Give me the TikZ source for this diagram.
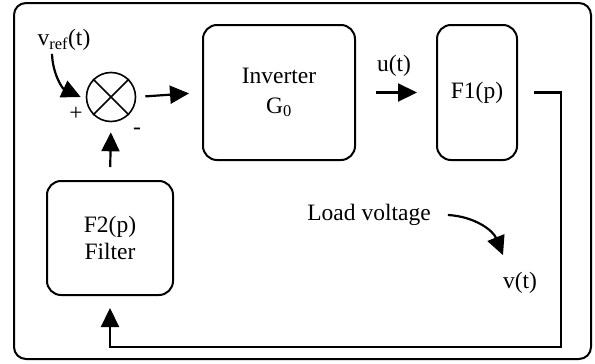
\documentclass[tikz,border=0pt]{standalone}
\usepackage{fontspec}
\setmainfont{Liberation Serif}
\usetikzlibrary{arrows.meta}

\begin{document}
\begin{tikzpicture}[x=1pt, y=-1pt,
  block/.style={draw, line width=2pt, rounded corners=14pt, align=center, inner sep=0pt, font=\fontsize{23.5}{27}\selectfont},
  sig/.style={-{Triangle[length=19pt,width=18pt]}, line width=2.2pt},
  lbl/.style={inner sep=0pt, font=\fontsize{23.5}{27}\selectfont}
]
  \useasboundingbox (0,0) rectangle (595,364);
  \draw[line width=2pt, rounded corners=12pt] (14,3) rectangle (591,359);

  % forward path
  \node[draw, circle, line width=1.6pt, minimum size=49pt, inner sep=0pt] (sum) at (111,97) {};
  \draw[line width=1.6pt] (sum.north east) -- (sum.south west);
  \draw[line width=1.6pt] (sum.north west) -- (sum.south east);
  \node[block, minimum width=152pt, minimum height=135pt] (inv) at (279,92.5) {Inverter\\[3pt]G\textsubscript{0}};
  \node[block, minimum width=80pt, minimum height=135pt] (fone) at (477,92.5) {F1(p)};
  \node[block, minimum width=126pt, minimum height=114pt] (ftwo) at (110,238) {F2(p)\\Filter};

  \node[lbl] (vref) at (64,40) {v\textsubscript{ref}(t)};
  \node[lbl] (plus) at (76,114) {+};
  \node[lbl] (minus) at (137,131) {-};
  \node[lbl] (ut) at (394,66) {u(t)};
  \node[lbl] (load) at (369,215) {Load voltage};
  \node[lbl] (vt) at (520,283) {v(t)};

  \draw[sig] ([xshift=-12pt,yshift=-3pt]vref.south) to[out=-88, in=155] ([xshift=-5pt]sum.west);
  \draw[sig, shorten <=9pt, shorten >=13pt] (sum.east) -- (inv.west);
  \draw[sig, shorten <=20pt, shorten >=19pt] (inv.east) -- (fone.west);

  % feedback
  \coordinate (corner) at (561,347);
  \draw[sig, shorten <=16pt, shorten >=12pt] (fone.east) -| (corner) -| (ftwo.south);
  \draw[sig, shorten <=13pt, shorten >=10pt] (ftwo.north) -- (sum.south);

  \draw[sig] ([xshift=17pt]load.east) to[out=-3, in=112] ([xshift=-17pt,yshift=17pt]vt.north);
\end{tikzpicture}
\end{document}
